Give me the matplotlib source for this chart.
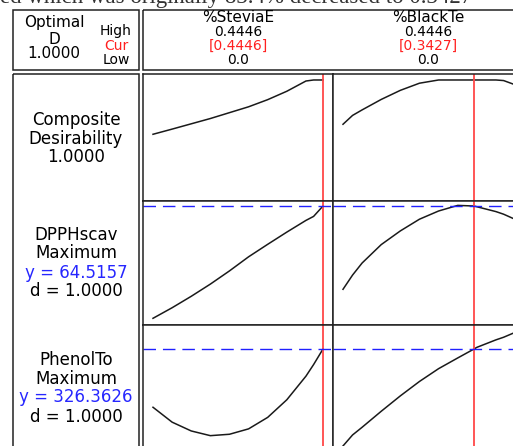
import matplotlib
matplotlib.use('Agg')
import matplotlib.pyplot as plt
from matplotlib.patches import Rectangle

# ---- data ----
factors = ['%SteviaE', '%BlackTe']
high = [0.4446, 0.4446]
low = [0.0, 0.0]
cur = [0.4446, 0.3427]

responses = ['DPPHscav', 'PhenolTo']
goals = ['Maximum', 'Maximum']
y_opt = [64.5157, 326.3626]
d_opt = [1.0, 1.0]
composite_d = 1.0

stevia_x = [0.0, 0.05, 0.10, 0.15, 0.20, 0.25, 0.30, 0.35, 0.40, 0.42, 0.4446]
stevia_comp = [0.528, 0.573, 0.619, 0.665, 0.716, 0.767, 0.829, 0.902, 0.991, 1.0, 1.0]
stevia_dpph = [30.83, 34.0, 37.43, 41.09, 45.05, 49.28, 53.03, 56.69, 60.2, 61.4, 64.5157]
stevia_phenol = [268.1, 253.2, 244.4, 239.7, 241.1, 246.5, 258.0, 275.6, 299.2, 310.8, 326.3626]

blackte_x = [0.0, 0.025, 0.05, 0.10, 0.15, 0.20, 0.25, 0.30, 0.3427, 0.35, 0.40, 0.42, 0.4446]
blackte_comp = [0.615, 0.692, 0.740, 0.831, 0.910, 0.972, 1.0, 1.0, 1.0, 1.0, 1.0, 0.995, 0.965]
blackte_dpph = [39.53, 43.8, 47.42, 52.94, 57.05, 60.56, 63.02, 64.7, 64.5157, 64.3, 62.84, 62.06, 60.8]
blackte_phenol = [229.4, 240.4, 248.1, 264.1, 279.5, 293.9, 306.7, 317.4, 326.3626, 328.0, 335.5, 338.1, 342.1]

xs = [stevia_x, blackte_x]
curves = [[stevia_comp, blackte_comp],
          [stevia_dpph, blackte_dpph],
          [stevia_phenol, blackte_phenol]]
ylims = [(-0.052, 1.052), (28.82, 66.02), (226.36, 350.36)]

# ---- layout (pixels) ----
W, H = 513, 446
col_left = [143, 333]
col_w = 190
row_top = [74, 201, 325]
row_h = [127, 124, 124]
pad = 0.4446 * 10 / 170

fig = plt.figure(figsize=(W / 100, H / 100), dpi=100)

# overlay for boxes and labels, in pixel units
ax0 = fig.add_axes([0, 0, 1, 1])
ax0.set_xlim(0, W)
ax0.set_ylim(H, 0)
ax0.axis('off')

lw_box = 1.1
for (x, y, w, h) in [(13, 10, 126, 60), (143, 10, 400, 60), (13, 74, 126, 400)]:
    ax0.add_patch(Rectangle((x, y), w, h, fill=False, ec='#222222', lw=lw_box))

# cut-off line of the document text above the chart
ax0.text(0.5, 2.5, 'ed which was originally 83.4% decreased to 0.3427',
         family='Liberation Serif', fontsize=16.5, ha='left', va='baseline', color='#333333')

fs = 12
fs1 = 11
fs2 = 10
ax0.text(54, 22, 'Optimal', fontsize=fs1, ha='center', va='center')
ax0.text(54, 39, 'D', fontsize=fs1, ha='center', va='center')
ax0.text(54, 54, '%.4f' % composite_d, fontsize=fs1, ha='center', va='center')
ax0.text(116, 31.5, 'High', fontsize=fs2, ha='center', va='center')
ax0.text(116, 46, 'Cur', fontsize=fs2, ha='center', va='center', color='#ff2020')
ax0.text(116, 60.5, 'Low', fontsize=fs2, ha='center', va='center')

for i in range(2):
    cx = col_left[i] + col_w / 2
    ax0.text(cx, 17, factors[i], fontsize=fs1, ha='center', va='center')
    ax0.text(cx, 31.5, '%.4f' % high[i], fontsize=fs2, ha='center', va='center')
    ax0.text(cx, 46, '[%.4f]' % cur[i], fontsize=fs2, ha='center', va='center', color='#ff2020')
    ax0.text(cx, 60.5, '%.1f' % low[i], fontsize=fs2, ha='center', va='center')

ax0.text(76, 120, 'Composite', fontsize=fs, ha='center', va='center')
ax0.text(76, 139, 'Desirability', fontsize=fs, ha='center', va='center')
ax0.text(76, 157.5, '%.4f' % composite_d, fontsize=fs, ha='center', va='center')

label_y = [[235, 253.5, 273, 291], [360, 379, 397.5, 416.5]]
for j in range(2):
    ly = label_y[j]
    ax0.text(76, ly[0], responses[j], fontsize=fs, ha='center', va='center')
    ax0.text(76, ly[1], goals[j], fontsize=fs, ha='center', va='center')
    ax0.text(76, ly[2], 'y = %.4f' % y_opt[j], fontsize=fs, ha='center', va='center', color='#2626ff')
    ax0.text(76, ly[3], 'd = %.4f' % d_opt[j], fontsize=fs, ha='center', va='center')

# panels
for r in range(3):
    for c in range(2):
        ax = fig.add_axes([col_left[c] / W, 1 - (row_top[r] + row_h[r]) / H,
                           col_w / W, row_h[r] / H])
        ax.plot(xs[c], curves[r][c], color='#1a1a1a', lw=1.1)
        ax.axvline(cur[c], color='#ff4848', lw=1.3)
        if r > 0:
            ax.axhline(y_opt[r - 1], color='#2020ff', lw=1.0, dashes=(9, 5))
        ax.set_xlim(low[c] - pad, high[c] + pad)
        ax.set_ylim(*ylims[r])
        ax.set_xticks([])
        ax.set_yticks([])
        for s in ax.spines.values():
            s.set_linewidth(lw_box)
            s.set_color('#222222')

fig.savefig('out.png', dpi=100)
